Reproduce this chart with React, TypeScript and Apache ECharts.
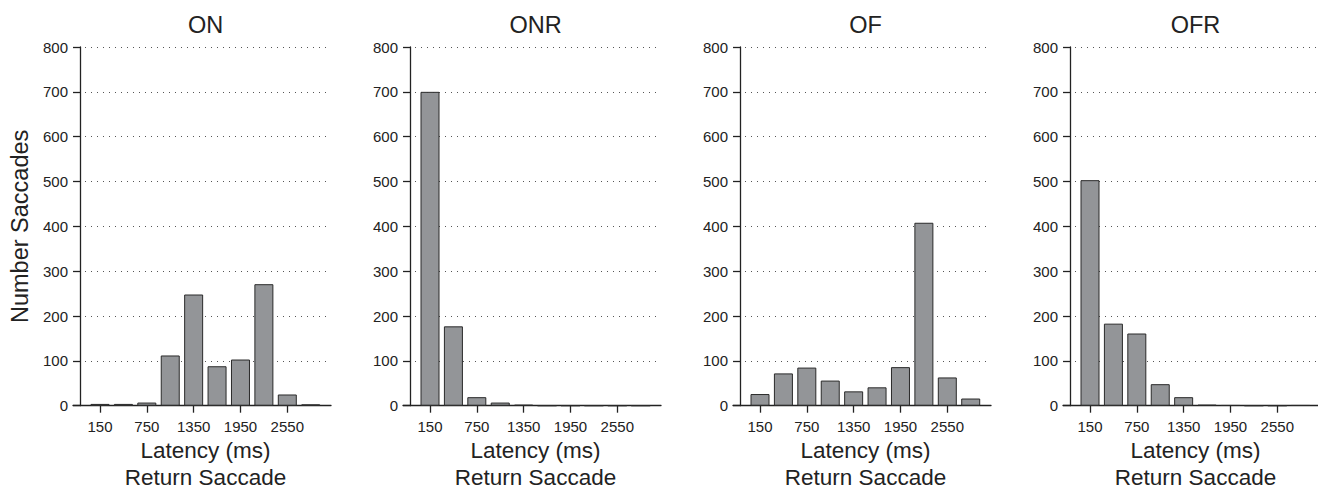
import React, { useEffect, useRef } from "react";
import * as echarts from "echarts";

const latencies = [150, 450, 750, 1050, 1350, 1650, 1950, 2250, 2550, 2850];
const tickValues = [150, 750, 1350, 1950, 2550];
const panelTitles = ["ON", "ONR", "OF", "OFR"];
const onValues = [4, 4, 7, 112, 248, 88, 103, 271, 25, 3];
const onrValues = [700, 177, 19, 7, 2, 0, 0, 0, 0, 0];
const ofValues = [26, 72, 85, 56, 32, 41, 86, 408, 63, 16];
const ofrValues = [503, 183, 161, 48, 19, 2, 1, 0, 0, 1];
const panelValues = [onValues, onrValues, ofValues, ofrValues];
const yAxisName = "Number Saccades";
const xAxisLine1 = "Latency (ms)";
const xAxisLine2 = "Return Saccade";

const FONT = "'Liberation Sans', Arial, Helvetica, sans-serif";
const INK = "#222222";

export default function App() {
  const ref = useRef<HTMLDivElement>(null);
  useEffect(() => {
    if (!ref.current) return;
    const chart = echarts.init(ref.current, null, { renderer: "svg" });
    const panelStep = 330;
    const grids: any[] = [];
    const xAxes: any[] = [];
    const yAxes: any[] = [];
    const series: any[] = [];
    const graphics: any[] = [];
    panelValues.forEach((vals, k) => {
      const left = 73 + panelStep * k;
      grids.push({
        left,
        top: 47,
        width: 258,
        bottom: 81.3,
        containLabel: false,
        outerBoundsMode: "none",
      });
      xAxes.push({
        type: "value",
        gridIndex: k,
        min: -196,
        max: 3110,
        name: `{a|${xAxisLine1}}\n{b|${xAxisLine2}}`,
        nameLocation: "middle",
        nameGap: 19,
        nameTextStyle: {
          fontFamily: FONT,
          fontSize: 22.5,
          color: INK,
          padding: [0, 0, 0, 7],
          rich: {
            a: { fontFamily: FONT, fontSize: 22.5, color: INK, lineHeight: 36 },
            b: { fontFamily: FONT, fontSize: 22.5, color: INK, lineHeight: 18 },
          },
        },
        axisLine: { show: true, onZero: false, lineStyle: { color: INK, width: 1.3 } },
        axisTick: {
          show: true,
          length: 7,
          customValues: tickValues,
          lineStyle: { color: INK, width: 1.3 },
        },
        axisLabel: {
          customValues: tickValues,
          margin: 13,
          fontFamily: FONT,
          fontSize: 15,
          color: INK,
          formatter: (v: number) => String(v),
        },
        splitLine: { show: false },
      });
      yAxes.push({
        type: "value",
        gridIndex: k,
        min: 0,
        max: 800,
        interval: 100,
        offset: -7,
        name: k === 0 ? yAxisName : "",
        nameLocation: "middle",
        nameGap: 48,
        nameTextStyle: { fontFamily: FONT, fontSize: 23.5, color: INK },
        axisLine: { show: true, onZero: false, lineStyle: { color: INK, width: 1.3 } },
        axisTick: { show: true, length: 7, lineStyle: { color: INK, width: 1.3 } },
        axisLabel: {
          margin: 12,
          fontFamily: FONT,
          fontSize: 15,
          color: INK,
          formatter: (v: number) => String(v),
        },
        splitLine: {
          show: true,
          lineStyle: { color: "#555555", width: 1, type: [1, 5] },
        },
      });
      series.push({
        type: "bar",
        xAxisIndex: k,
        yAxisIndex: k,
        barWidth: 19,
        data: latencies.map((x, i) => [x, vals[i]]),
        itemStyle: { color: "#939598", borderColor: "#2a2a2a", borderWidth: 1 },
      });
      graphics.push({
        type: "text",
        x: 80 + panelStep * k + 125.5,
        y: 13,
        style: {
          text: panelTitles[k],
          align: "center",
          verticalAlign: "top",
          fontFamily: FONT,
          fontSize: 23.5,
          fill: INK,
        },
      });
    });
    chart.setOption({
      animation: false,
      backgroundColor: "#ffffff",
      grid: grids,
      xAxis: xAxes,
      yAxis: yAxes,
      series,
      graphic: graphics,
    });
    return () => chart.dispose();
  }, []);
  return (
    <div
      ref={ref}
      style={{ position: "fixed", left: 0, top: 0, width: 1318, height: 487 }}
    />
  );
}
